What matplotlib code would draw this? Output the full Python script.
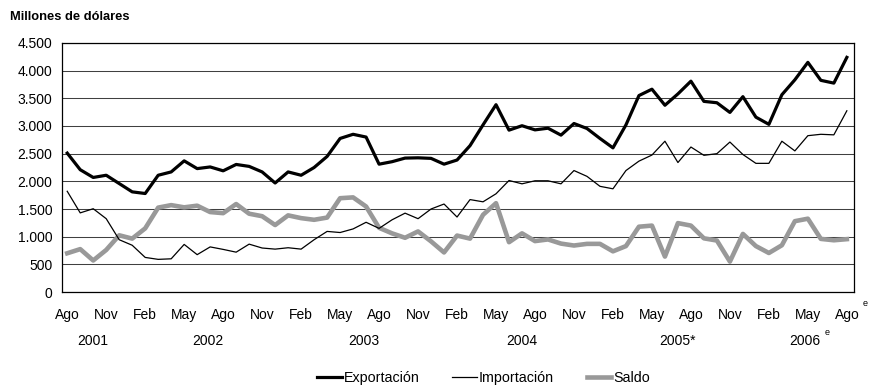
import matplotlib.pyplot as plt
import matplotlib.transforms as mtransforms
from matplotlib.ticker import FuncFormatter

plt.rcParams['font.family'] = ['Liberation Sans', 'DejaVu Sans']

# Serie mensual ago-2001 a ago-2006 (millones de dólares)
exportacion = [2510, 2210, 2070, 2110, 1960, 1810, 1780, 2110, 2170, 2370, 2230, 2260, 2190,
               2305, 2270, 2170, 1970, 2170, 2110, 2250, 2450, 2775, 2850, 2800, 2310,
               2355, 2420, 2425, 2415, 2310, 2385, 2645, 3020, 3385, 2925, 3005, 2930,
               2960, 2835, 3045, 2955, 2775, 2605, 3020, 3550, 3665, 3375, 3580, 3810,
               3445, 3420, 3245, 3530, 3160, 3030, 3565, 3835, 4150, 3825, 3775, 4240]
importacion = [1820, 1430, 1505, 1325, 945, 845, 625, 590, 600, 860, 675, 815, 770,
               720, 865, 795, 775, 800, 775, 945, 1095, 1075, 1140, 1260, 1150,
               1305, 1425, 1325, 1500, 1590, 1355, 1670, 1630, 1775, 2015, 1955, 2010,
               2010, 1955, 2195, 2090, 1910, 1865, 2195, 2365, 2475, 2725, 2340, 2620,
               2470, 2500, 2710, 2485, 2325, 2325, 2725, 2550, 2825, 2850, 2840, 3275]
saldo = [700, 775, 570, 760, 1025, 965, 1150, 1525, 1570, 1530, 1560, 1445, 1425,
         1590, 1415, 1370, 1210, 1385, 1335, 1305, 1345, 1695, 1710, 1545, 1160,
         1060, 980, 1095, 915, 715, 1020, 965, 1395, 1605, 900, 1060, 920,
         950, 875, 840, 870, 870, 735, 830, 1180, 1200, 640, 1245, 1200,
         970, 930, 550, 1050, 830, 705, 845, 1280, 1325, 960, 935, 955]

meses = ['Ago', 'Nov', 'Feb', 'May'] * 5 + ['Ago']
anios = ['2001', '2002', '2003', '2004', '2005*', '2006']
pos_anios = [2.0, 10.8, 22.8, 35.0, 47.0, 56.8]

x = list(range(len(exportacion)))

fig = plt.figure(figsize=(8.7, 3.88), dpi=100)
ax = fig.add_axes([0.0713, 0.2474, 0.9103, 0.6418])

ax.plot(x, saldo, color='#999999', lw=3.3, label='Saldo', zorder=3)
ax.plot(x, importacion, color='black', lw=0.9, label='Importación', zorder=4)
ax.plot(x, exportacion, color='black', lw=2.3, label='Exportación', zorder=5)

ax.set_xlim(-0.4, 60.55)
ax.set_ylim(0, 4500)
ax.set_yticks(range(0, 4501, 500))
ax.yaxis.set_major_formatter(FuncFormatter(lambda v, p: f'{int(v):,}'.replace(',', '.')))
ax.set_xticks(x[::3])
ax.set_xticklabels(meses)
ax.tick_params(length=0, labelsize=10)
ax.tick_params(axis='y', pad=7)
ax.tick_params(axis='x', pad=11.5)
ax.grid(axis='y', color='#404040', lw=0.75)
ax.set_axisbelow(True)
for s in ax.spines.values():
    s.set_color('black')
    s.set_linewidth(0.9)

# años debajo de los meses
trans = mtransforms.blended_transform_factory(ax.transData, ax.transAxes)
for a, p in zip(anios, pos_anios):
    ax.text(p, -0.195, a, transform=trans, ha='center', va='center', fontsize=10)

fig.text(0.997, 0.217, 'e', fontsize=6.5, ha='right', va='center')
fig.text(0.951, 0.142, 'e', fontsize=6.5, ha='center', va='center')

fig.text(0.011, 0.955, 'Millones de dólares', fontsize=9.3, fontweight='bold', va='center')

h, l = ax.get_legend_handles_labels()
orden = [2, 1, 0]
fig.legend([h[i] for i in orden], [l[i] for i in orden], loc='center',
           bbox_to_anchor=(0.556, 0.025), ncol=3, frameon=False, fontsize=10.3,
           handlelength=1.7, handletextpad=0.15, columnspacing=2.3)

fig.savefig('out.png', dpi=100)
